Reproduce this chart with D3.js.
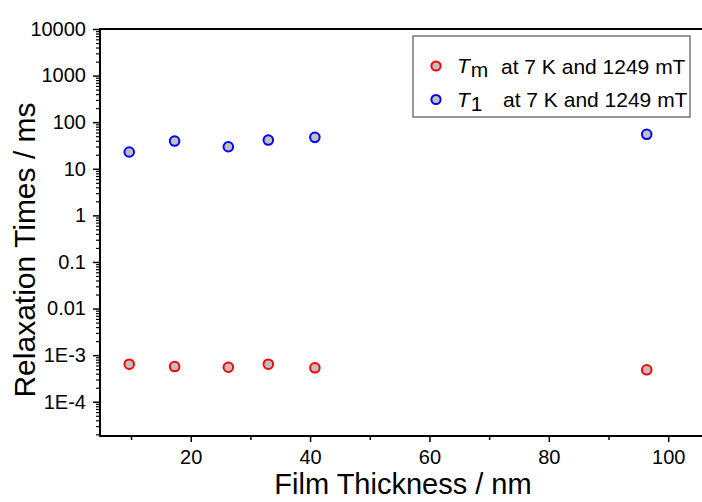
<!DOCTYPE html>
<html>
<head>
<meta charset="utf-8">
<script src="https://cdn.jsdelivr.net/npm/d3@7"></script>
<style>
  html, body { margin: 0; padding: 0; background: #fff; }
  svg { display: block; font-family: "Liberation Sans", Arial, sans-serif; }
</style>
</head>
<body>
<svg id="chart" width="702" height="502"></svg>
<script>
// ---- data ----
const thickness = [9.7, 17.3, 26.3, 33.0, 40.8, 96.4];
const tm = [6.4e-4, 5.7e-4, 5.5e-4, 6.4e-4, 5.35e-4, 4.85e-4];
const t1 = [22.9, 39.4, 29.7, 41.4, 47.3, 54.9];
const yTickValues = [1e4, 1e3, 1e2, 1e1, 1, 0.1, 0.01, 1e-3, 1e-4];
const yTickLabels = ["10000", "1000", "100", "10", "1", "0.1", "0.01", "1E-3", "1E-4"];
const xTickValues = [20, 40, 60, 80, 100];
const xMinorValues = [10, 30, 50, 70, 90];
const seriesNames = ["m", "1"];
const legendRest = "at 7 K and 1249 mT";

(function () {
// ---- layout ----
const svg = d3.select("#chart");
const pLeft = 100, pTop = 29, pBottom = 436, pRight = 704;
const x = d3.scaleLinear().domain([4.8, 106]).range([pLeft, pRight]);
const y = d3.scaleLog().domain([1.84e-5, 1e4]).range([pBottom, pTop]);

// minor y ticks
const yMinor = [];
for (let e = -5; e < 4; e++) {
  for (let m = 2; m <= 9; m++) {
    const v = m * Math.pow(10, e);
    if (v >= 1.84e-5 && v <= 1e4) yMinor.push(v);
  }
}

// Y axis
const yAxis = d3.axisLeft(y).tickValues(yTickValues)
  .tickFormat((d, i) => yTickLabels[i]).tickSize(7).tickPadding(7);
const gy = svg.append("g").attr("transform", `translate(${pLeft},0)`).call(yAxis);
gy.select(".domain").remove();
gy.selectAll(".tick line").attr("stroke", "#000").attr("stroke-width", 1.5);
gy.selectAll(".tick text").attr("font-size", 20).attr("fill", "#000")
  .attr("font-family", "Liberation Sans, Arial, sans-serif");
svg.append("g").attr("transform", `translate(${pLeft},0)`)
  .call(d3.axisLeft(y).tickValues(yMinor).tickFormat("").tickSize(4))
  .call(g => g.select(".domain").remove())
  .selectAll("line").attr("stroke", "#000").attr("stroke-width", 1.2);

// X axis
const xAxis = d3.axisBottom(x).tickValues(xTickValues).tickFormat(d3.format("d"))
  .tickSize(6).tickPadding(8);
const gx = svg.append("g").attr("transform", `translate(0,${pBottom})`).call(xAxis);
gx.select(".domain").remove();
gx.selectAll(".tick line").attr("stroke", "#000").attr("stroke-width", 1.5);
gx.selectAll(".tick text").attr("font-size", 20).attr("fill", "#000")
  .attr("font-family", "Liberation Sans, Arial, sans-serif");
svg.append("g").attr("transform", `translate(0,${pBottom})`)
  .call(d3.axisBottom(x).tickValues(xMinorValues).tickFormat("").tickSize(4))
  .call(g => g.select(".domain").remove())
  .selectAll("line").attr("stroke", "#000").attr("stroke-width", 1.5);

// frame lines
svg.append("line").attr("x1", pLeft).attr("x2", pLeft).attr("y1", pTop - 1).attr("y2", pBottom + 1)
  .attr("stroke", "#000").attr("stroke-width", 2);
svg.append("line").attr("x1", pLeft - 1).attr("x2", 702).attr("y1", pBottom).attr("y2", pBottom)
  .attr("stroke", "#000").attr("stroke-width", 2);
svg.append("line").attr("x1", pLeft - 1).attr("x2", 702).attr("y1", pTop).attr("y2", pTop)
  .attr("stroke", "#000").attr("stroke-width", 2);

// axis titles
svg.append("text").attr("x", 403).attr("y", 494).attr("text-anchor", "middle")
  .attr("font-size", 29).attr("fill", "#000").text("Film Thickness / nm");
svg.append("text").attr("transform", "translate(35,250) rotate(-90)")
  .attr("text-anchor", "middle").attr("font-size", 30).attr("fill", "#000")
  .text("Relaxation Times / ms");

// points
const series = [
  { vals: tm, color: "#ff0000" },
  { vals: t1, color: "#0000ff" }
];
series.forEach(s => {
  svg.append("g").selectAll("circle").data(thickness).join("circle")
    .attr("cx", d => x(d)).attr("cy", (d, i) => y(s.vals[i])).attr("r", 4.8)
    .attr("fill", "#c0c0c0").attr("stroke", s.color).attr("stroke-width", 2);
});

// legend
const lg = svg.append("g");
lg.append("rect").attr("x", 413).attr("y", 36).attr("width", 277).attr("height", 81)
  .attr("fill", "#fff").attr("stroke", "#555").attr("stroke-width", 1.2);
const rowsY = [66, 99.5];
series.forEach((s, i) => {
  lg.append("circle").attr("cx", 436).attr("cy", rowsY[i]).attr("r", 4.6)
    .attr("fill", "#c0c0c0").attr("stroke", s.color).attr("stroke-width", 2);
  const t = lg.append("text").attr("x", 457).attr("y", rowsY[i] + 7).attr("font-size", 21).attr("fill", "#000");
  t.append("tspan").attr("font-style", "italic").text("T");
  t.append("tspan").attr("dy", 4).attr("dx", 1).text(seriesNames[i]);
  lg.append("text").attr("x", i === 0 ? 501 : 503).attr("y", rowsY[i] + 7.5)
    .attr("font-size", 21).attr("fill", "#000").text(legendRest);
});
})();
</script>
</body>
</html>
